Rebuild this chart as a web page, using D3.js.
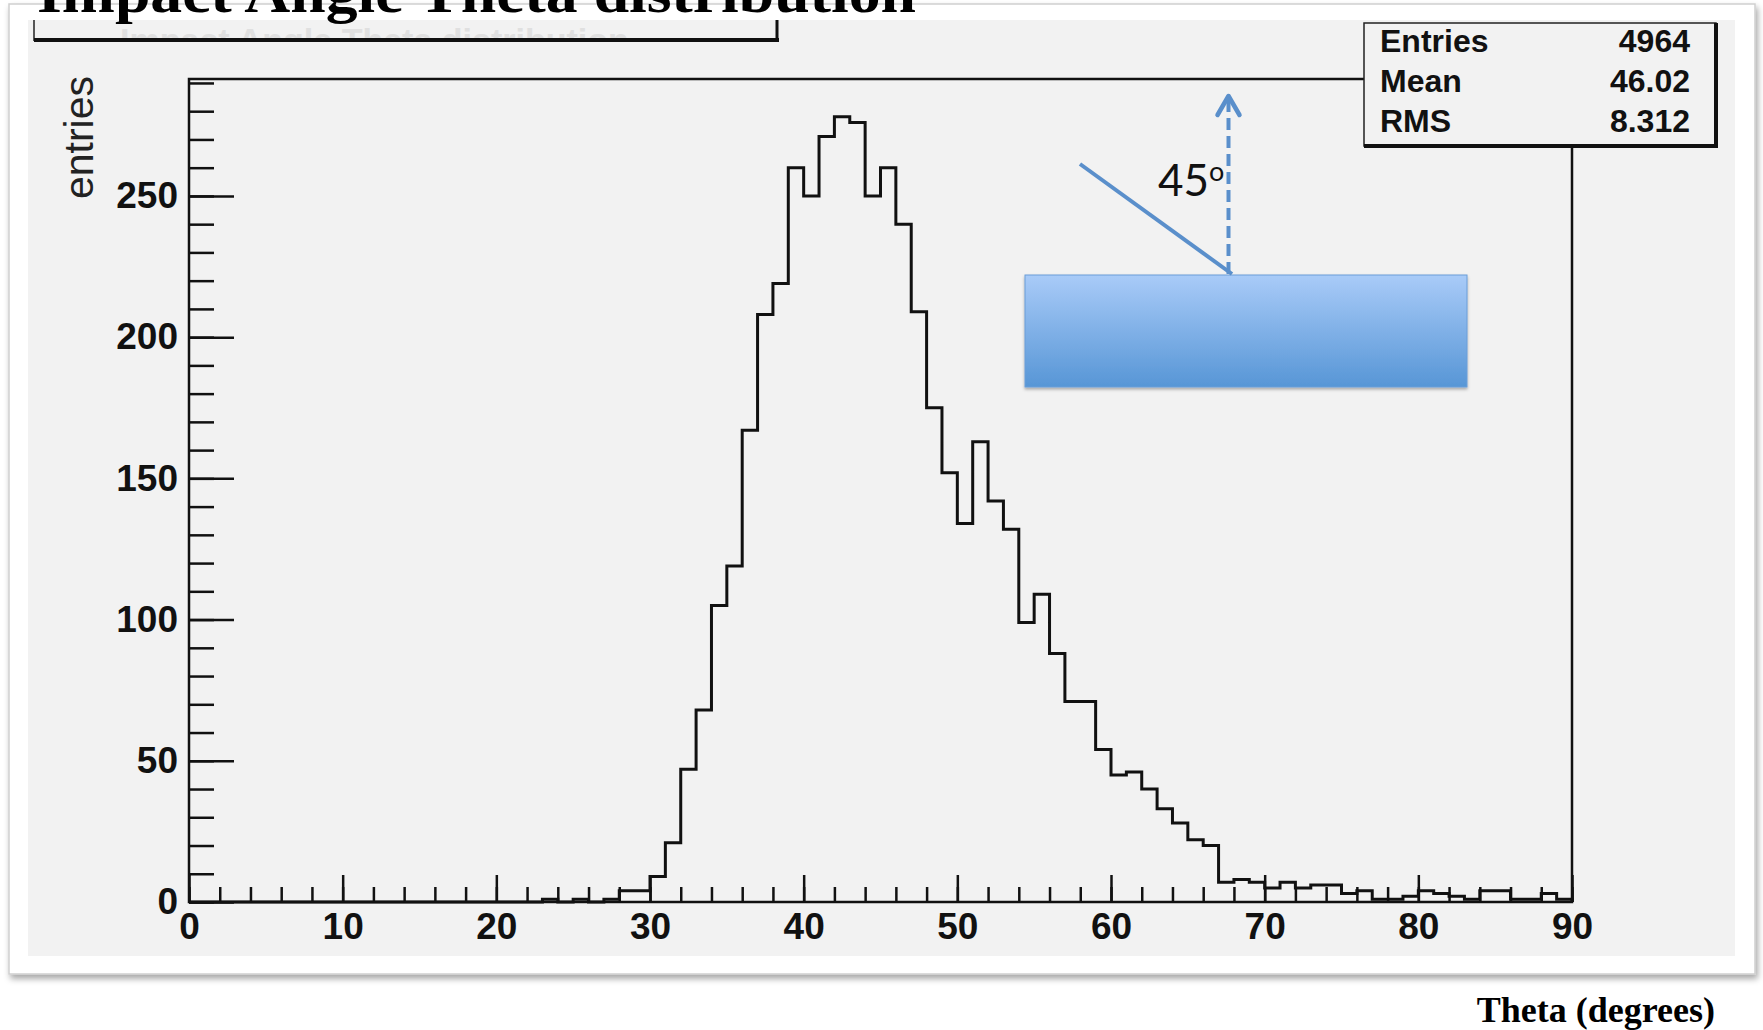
<!DOCTYPE html>
<html>
  <head>
    <meta charset="utf-8">
    <title>Impact Angle Theta distribution</title>
    <script src="https://d3js.org/d3.v7.min.js"></script>
    <style>
    body { margin: 0; background: #fff; }
    .axis text { font-family: "Liberation Sans", Arial, sans-serif; font-weight: bold; fill: #111; }
    .axis line { stroke: #111; stroke-width: 2.5px; }
    .axis path { display: none; }
    </style>
  </head>
  <body>
    <script>
      // ---- data ----
      // counts per 1 degree bin, bins start at 0,1,...,89
      const counts = [
        0, 0, 0, 0, 0, 0, 0, 0, 0, 0,
        0, 0, 0, 0, 0, 0, 0, 0, 0, 0,
        0, 0, 0, 1, 0, 1, 0, 1, 4, 4,
        9, 21, 47, 68, 105, 119, 167, 208, 219, 260,
        250, 271, 278, 276, 250, 260, 240, 209, 175, 152,
        134, 163, 142, 132, 99, 109, 88, 71, 71, 54,
        45, 46, 40, 33, 28, 22, 20, 7, 8, 7,
        5, 7, 5, 6, 6, 3, 4, 1, 1, 2,
        4, 3, 2, 1, 4, 4, 1, 1, 3, 1
      ];
      const xTicks = [0, 10, 20, 30, 40, 50, 60, 70, 80, 90];
      const yTicks = [0, 50, 100, 150, 200, 250];
      const statLabels = ["Entries", "Mean", "RMS"];
      const statValues = ["4964", "46.02", "8.312"];

      const width = 1763, height = 1030;
      const frame = { left: 189, right: 1572, top: 79, bottom: 902 };

      const svg = d3.select("body").append("svg")
          .attr("width", width)
          .attr("height", height);

      const defs = svg.append("defs");
      defs.append("filter").attr("id", "cardShadow")
          .attr("x", "-5%").attr("y", "-5%").attr("width", "110%").attr("height", "110%")
        .append("feDropShadow")
          .attr("dx", 2).attr("dy", 4).attr("stdDeviation", 3)
          .attr("flood-color", "#000").attr("flood-opacity", 0.35);
      defs.append("filter").attr("id", "boxShadow")
          .attr("x", "-5%").attr("y", "-5%").attr("width", "110%").attr("height", "120%")
        .append("feDropShadow")
          .attr("dx", 0).attr("dy", 2).attr("stdDeviation", 1.5)
          .attr("flood-color", "#000").attr("flood-opacity", 0.3);
      const grad = defs.append("linearGradient").attr("id", "blueGrad")
          .attr("x1", 0).attr("y1", 0).attr("x2", 0).attr("y2", 1);
      grad.append("stop").attr("offset", "0%").attr("stop-color", "#a9cbf8");
      grad.append("stop").attr("offset", "100%").attr("stop-color", "#5796d6");
      defs.append("clipPath").attr("id", "titleBoxClip")
        .append("rect").attr("x", 34).attr("y", 20).attr("width", 744).attr("height", 19);

      // white card with shadow, grey ROOT canvas inside
      svg.append("rect")
          .attr("x", 9).attr("y", 4).attr("width", 1746).attr("height", 970)
          .attr("fill", "#fff").attr("stroke", "#cfcfcf").attr("stroke-width", 1.5)
          .attr("filter", "url(#cardShadow)");
      svg.append("rect")
          .attr("x", 28).attr("y", 20).attr("width", 1707).attr("height", 936)
          .attr("fill", "#f2f2f2");

      // ROOT title pave (mostly hidden behind the slide title)
      svg.append("text")
          .attr("x", 120).attr("y", 52)
          .attr("clip-path", "url(#titleBoxClip)")
          .style("font-family", "Liberation Sans, Arial, sans-serif")
          .style("font-weight", "bold")
          .style("font-size", "34px")
          .attr("fill", "#e0e0e0")
          .text("Impact Angle Theta distribution");
      svg.append("line").attr("x1", 34).attr("x2", 34).attr("y1", 20).attr("y2", 41)
          .attr("stroke", "#222").attr("stroke-width", 1.5);
      svg.append("line").attr("x1", 777).attr("x2", 777).attr("y1", 20).attr("y2", 42)
          .attr("stroke", "#111").attr("stroke-width", 3);
      svg.append("line").attr("x1", 34).attr("x2", 779).attr("y1", 40).attr("y2", 40)
          .attr("stroke", "#111").attr("stroke-width", 4);

      // scales
      const x = d3.scaleLinear().domain([0, 90]).range([frame.left, frame.right]);
      const y = d3.scaleLinear().domain([0, 291.4]).range([frame.bottom, frame.top]);

      // y axis: major every 50, minor every 10, ticks drawn inside the frame
      svg.append("g").attr("class", "axis")
          .attr("transform", "translate(" + frame.left + ",0)")
          .call(d3.axisLeft(y).tickValues(d3.range(0, 291, 10)).tickSize(-25).tickFormat(""));
      svg.append("g").attr("class", "axis")
          .attr("transform", "translate(" + frame.left + ",0)")
          .call(d3.axisLeft(y).tickValues(yTicks).tickSize(-45).tickPadding(11))
          .selectAll("text").style("font-size", "37px");

      // x axis: major every 10, minor every 2
      svg.append("g").attr("class", "axis")
          .attr("transform", "translate(0," + frame.bottom + ")")
          .call(d3.axisBottom(x).tickValues(d3.range(0, 91, 2)).tickSize(-15).tickFormat(""));
      svg.append("g").attr("class", "axis")
          .attr("transform", "translate(0," + frame.bottom + ")")
          .call(d3.axisBottom(x).tickValues(xTicks).tickSize(-27).tickPadding(11))
          .selectAll("text").style("font-size", "37px");

      // histogram outline
      const pts = counts.map((c, i) => [i, c]);
      pts.unshift([0, 0]);
      pts.push([90, counts[counts.length - 1]]);
      pts.push([90, 0]);
      const step = d3.line()
          .x(d => x(d[0]))
          .y(d => y(d[1]))
          .curve(d3.curveStepAfter);
      svg.append("path")
          .attr("d", step(pts))
          .attr("fill", "none")
          .attr("stroke", "#111")
          .attr("stroke-width", 3);

      // frame
      svg.append("rect")
          .attr("x", frame.left).attr("y", frame.top)
          .attr("width", frame.right - frame.left).attr("height", frame.bottom - frame.top)
          .attr("fill", "none").attr("stroke", "#111").attr("stroke-width", 2.5);

      // y axis title
      svg.append("text")
          .attr("transform", "translate(93,76) rotate(-90)")
          .attr("text-anchor", "end")
          .style("font-family", "Liberation Sans, Arial, sans-serif")
          .style("font-size", "41px")
          .attr("fill", "#222")
          .text("entries");

      // stats box
      const stats = svg.append("g");
      stats.append("rect")
          .attr("x", 1364).attr("y", 23).attr("width", 352).attr("height", 123)
          .attr("fill", "#f2f2f2").attr("stroke", "#222").attr("stroke-width", 1.5);
      stats.append("line").attr("x1", 1716).attr("x2", 1716).attr("y1", 23).attr("y2", 148)
          .attr("stroke", "#111").attr("stroke-width", 4);
      stats.append("line").attr("x1", 1364).attr("x2", 1718).attr("y1", 146).attr("y2", 146)
          .attr("stroke", "#111").attr("stroke-width", 4);
      const rowY = d3.scalePoint().domain(statLabels).range([52, 132]);
      stats.selectAll("text.lbl").data(statLabels).enter().append("text")
          .attr("class", "lbl")
          .attr("x", 1380).attr("y", d => rowY(d))
          .style("font-family", "Liberation Sans, Arial, sans-serif")
          .style("font-weight", "bold").style("font-size", "32px")
          .attr("fill", "#111")
          .text(d => d);
      stats.selectAll("text.val").data(statValues).enter().append("text")
          .attr("class", "val")
          .attr("x", 1690).attr("y", (d, i) => rowY(statLabels[i]))
          .attr("text-anchor", "end")
          .style("font-family", "Liberation Sans, Arial, sans-serif")
          .style("font-weight", "bold").style("font-size", "32px")
          .attr("fill", "#111")
          .text(d => d);

      // sketch of the incidence angle
      const blue = "#5a8fcb";
      svg.append("rect")
          .attr("x", 1025).attr("y", 275).attr("width", 442).attr("height", 112)
          .attr("fill", "url(#blueGrad)").attr("stroke", "#6b9ed8").attr("stroke-width", 1)
          .attr("filter", "url(#boxShadow)");
      svg.append("line")
          .attr("x1", 1080).attr("y1", 164).attr("x2", 1232).attr("y2", 274)
          .attr("stroke", blue).attr("stroke-width", 4);
      svg.append("line")
          .attr("x1", 1228.5).attr("y1", 274).attr("x2", 1228.5).attr("y2", 100)
          .attr("stroke", blue).attr("stroke-width", 4)
          .attr("stroke-dasharray", "12,6");
      svg.append("path")
          .attr("d", "M1217.5,115 L1228.5,96 L1239.5,115")
          .attr("fill", "none").attr("stroke", blue).attr("stroke-width", 4.5)
          .attr("stroke-linecap", "round").attr("stroke-linejoin", "round");
      const angle = svg.append("text")
          .attr("x", 1158).attr("y", 196)
          .style("font-family", "Lato, 'Open Sans', sans-serif")
          .style("font-size", "44px")
          .attr("fill", "#111");
      angle.append("tspan").text("45");
      angle.append("tspan").attr("dy", -15).style("font-size", "27px").text("o");

      // slide title (cut off at the top)
      svg.append("text")
          .attr("x", 37).attr("y", 12)
          .attr("textLength", 879).attr("lengthAdjust", "spacingAndGlyphs")
          .style("font-family", "Liberation Serif, 'Times New Roman', serif")
          .style("font-weight", "bold").style("font-size", "58px")
          .attr("fill", "#000")
          .text("Impact Angle Theta distribution");

      // slide x axis label
      svg.append("text")
          .attr("x", 1715).attr("y", 1022)
          .attr("text-anchor", "end")
          .style("font-family", "Liberation Serif, 'Times New Roman', serif")
          .style("font-weight", "bold").style("font-size", "36px")
          .attr("fill", "#000")
          .text("Theta (degrees)");
    </script>
  </body>
</html>
